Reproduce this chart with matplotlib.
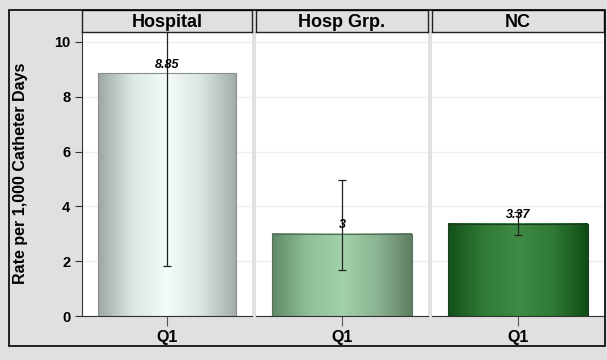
import matplotlib
matplotlib.use("Agg")
import matplotlib.pyplot as plt
import numpy as np
from matplotlib.colors import LinearSegmentedColormap
from matplotlib.patches import Rectangle

plt.rcParams.update({"font.family": ["Liberation Sans", "DejaVu Sans"],
                     "font.weight": "bold"})

# ---- data -------------------------------------------------------------------
panels    = ["Hospital", "Hosp Grp.", "NC"]
quarter   = ["Q1"]
rates     = [8.85, 3.0, 3.37]
err_low   = [1.82, 1.68, 2.97]
err_high  = [16.0, 4.95, 3.78]
labels    = ["8.85", "3", "3.37"]

# gradient stops per bar: edge, centre, edge
grads = [
    ["#9ca6a2", "#dde8e3", "#f3fcf6", "#dbe5e0", "#a3ada9"],
    ["#5f8a66", "#8ebf96", "#a3d2aa", "#8cb492", "#5e7f62"],
    ["#12501a", "#2f7a35", "#3f8b45", "#2f7a35", "#0f4c14"],
]
edges = ["#8a8f8d", "#5b6f5e", "#1c3d1e"]

BG = "#e0e0e0"
W, H = 607, 360
fig = plt.figure(figsize=(W / 100, H / 100), dpi=100, facecolor=BG)

# outer frame
fig.add_artist(Rectangle((9 / W, 1 - 346 / H), (605 - 9) / W, (346 - 10) / H,
                         transform=fig.transFigure, fill=False,
                         edgecolor="black", linewidth=1.2))

xs = [(82, 252), (256, 428), (432, 604)]
top, head, bot = 10, 32, 316
ymax = 10.36

for i, (x0, x1) in enumerate(xs):
    ax = fig.add_axes([x0 / W, 1 - bot / H, (x1 - x0) / W, (bot - head) / H])
    ax.set_facecolor("white")
    ax.set_xlim(-0.5, 0.5)
    ax.set_ylim(0, ymax)
    ax.set_yticks([0, 2, 4, 6, 8, 10])
    ax.grid(axis="y", color="#efefef", linewidth=1)
    ax.set_axisbelow(True)
    for s in ("top", "right"):
        ax.spines[s].set_visible(False)
    ax.spines["left"].set_visible(i == 0)
    ax.spines["bottom"].set_color("#333333")
    ax.spines["left"].set_color("#333333")
    ax.tick_params(axis="x", length=7, color="#555555", labelsize=11.5, pad=3)
    ax.tick_params(axis="y", length=5, color="#333333", labelsize=10.5)
    if i > 0:
        ax.tick_params(axis="y", left=False, labelleft=False)
    ax.set_xticks([0])
    ax.set_xticklabels(quarter)

    bar = ax.bar([0], [rates[i]], width=0.81, color="none",
                 edgecolor=edges[i], linewidth=0.8, zorder=3)[0]
    cmap = LinearSegmentedColormap.from_list("g%d" % i, grads[i])
    grad = np.linspace(0, 1, 256).reshape(1, -1)
    bx, bw, bh = bar.get_x(), bar.get_width(), bar.get_height()
    ax.imshow(grad, cmap=cmap, aspect="auto", zorder=2,
              extent=(bx, bx + bw, 0, bh))
    ax.set_xlim(-0.5, 0.5)
    ax.set_ylim(0, ymax)

    ax.errorbar([0], [rates[i]],
                yerr=[[rates[i] - err_low[i]], [err_high[i] - rates[i]]],
                fmt="none", ecolor="#222222", elinewidth=0.9, capsize=3,
                capthick=0.9, zorder=4)
    ax.annotate(labels[i], (0, rates[i]), ha="center", va="bottom",
                fontsize=9, style="italic", fontweight="bold",
                xytext=(0, 2), textcoords="offset points", zorder=5)

    # strip header
    hx = fig.add_axes([x0 / W, 1 - head / H, (x1 - x0) / W, (head - top) / H])
    hx.set_facecolor(BG)
    hx.set_xticks([]); hx.set_yticks([])
    for s in hx.spines.values():
        s.set_color("#222222"); s.set_linewidth(1)
    hx.text(0.5, 0.45, panels[i], ha="center", va="center",
            fontsize=13, fontweight="bold", transform=hx.transAxes)

fig.text(21 / W, 1 - 173 / H, "Rate per 1,000 Catheter Days", rotation=90,
         ha="center", va="center", fontsize=11.5, fontweight="bold")

fig.savefig("out.png", dpi=100, facecolor=BG)
